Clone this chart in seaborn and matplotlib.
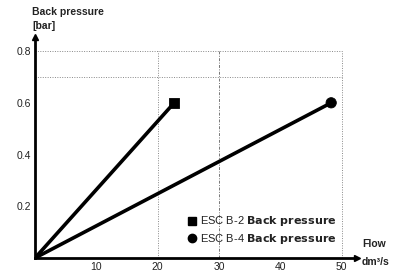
import matplotlib
matplotlib.use("Agg")
import matplotlib.pyplot as plt
import seaborn as sns
import pandas as pd
from matplotlib.lines import Line2D

sns.set_theme(style="white")
plt.rcParams['font.family'] = ['Liberation Sans', 'DejaVu Sans']

series = ["ESC B-2", "ESC B-4"]
flow_b2 = [0, 22.7]
press_b2 = [0, 0.6]
flow_b4 = [0, 48.3]
press_b4 = [0, 0.6]
markers = ["s", "o"]
xticks = [10, 20, 30, 40, 50]
yticks = [0.2, 0.4, 0.6, 0.8]

df = pd.DataFrame({
    "flow": flow_b2 + flow_b4,
    "pressure": press_b2 + press_b4,
    "series": [series[0]] * 2 + [series[1]] * 2,
})

fig = plt.figure(figsize=(3.95, 2.73), dpi=100)
ax = fig.add_axes([0.0886, 0.055, 0.815, 0.81])

# dotted reference lines
ax.hlines([0.7, 0.8], 0, 50, colors="#888888", linestyles=(0, (1, 1.5)), linewidth=0.7, zorder=1)
ax.vlines([20, 50], 0, 0.8, colors="#888888", linestyles=(0, (1, 1.5)), linewidth=0.7, zorder=1)
ax.vlines([30], 0, 0.8, colors="#777777", linestyles=(0, (3, 1.5, 1, 1.5)), linewidth=0.7, zorder=1)

sns.lineplot(data=df, x="flow", y="pressure", hue="series", palette=["black", "black"],
             linewidth=2.6, legend=False, ax=ax, zorder=3)
last = df.groupby("series").tail(1)
sns.scatterplot(data=last, x="flow", y="pressure", style="series", markers=dict(zip(series, markers)),
                color="black", s=55, edgecolor="black", legend=False, ax=ax, zorder=4)

ax.set_xlim(0, 52.5)
ax.set_ylim(0, 0.855)
ax.set_xticks(xticks)
ax.set_yticks(yticks)
ax.set_xticklabels([str(t) for t in xticks])
ax.set_yticklabels([f"{t:.1f}" for t in yticks])
ax.tick_params(axis="both", length=0, labelsize=7.5, colors="#222222", pad=3)
ax.set_xlabel("")
ax.set_ylabel("")
ax.grid(False)
for s in ["top", "right"]:
    ax.spines[s].set_visible(False)
for s in ["left", "bottom"]:
    ax.spines[s].set_linewidth(2)
    ax.spines[s].set_color("black")

# arrows on axes
ax.plot(1, 0, ">", color="black", markersize=5, transform=ax.get_yaxis_transform(), clip_on=False)
ax.plot(0, 1, "^", color="black", markersize=5, transform=ax.get_xaxis_transform(), clip_on=False)

fig.text(0.081, 0.955, "Back pressure", fontsize=7.5, fontweight="bold", color="#222222", va="center")
fig.text(0.081, 0.905, "[bar]", fontsize=7.5, fontweight="bold", color="#222222", va="center")
fig.text(0.916, 0.105, "Flow", fontsize=7.5, fontweight="bold", color="#222222", va="center")
fig.text(0.916, 0.04, "dm³/s", fontsize=7.5, fontweight="bold", color="#222222", va="center")

handles = [Line2D([], [], marker=m, color="black", linestyle="none", markersize=6) for m in markers]
labels = [f"{s} $\\bf{{Back\\ pressure}}$" for s in series]
leg = ax.legend(handles, labels, loc="lower left", bbox_to_anchor=(0.447, 0.02), frameon=False,
                fontsize=8, handletextpad=0.2, labelspacing=0.3, borderpad=0.2, handlelength=1.0)
for t in leg.get_texts():
    t.set_color("#222222")

fig.savefig("out.png", dpi=100)
